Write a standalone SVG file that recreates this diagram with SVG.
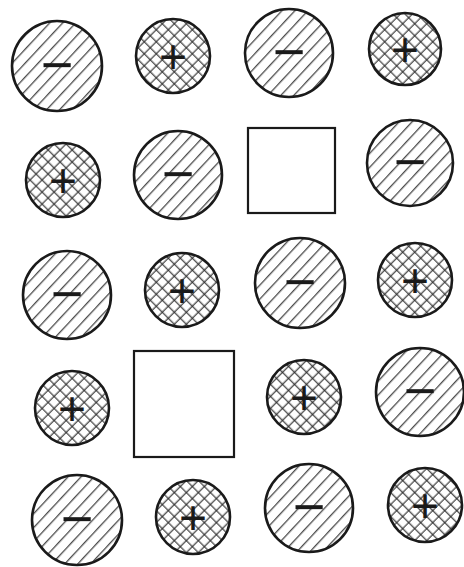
<svg xmlns="http://www.w3.org/2000/svg" width="464" height="567" viewBox="0 0 464 567">
<style>
.bg{fill:#fff}
.an{fill:url(#hatch);stroke:#1a1a1a;stroke-width:2.6}
.ca{fill:url(#cross);stroke:#1a1a1a;stroke-width:2.6}
.vac{fill:#fff;stroke:#1a1a1a;stroke-width:2.2}
.sg{font-family:"Liberation Sans",Arial,sans-serif;fill:#1a1a1a;text-anchor:middle}
.m{font-size:56px}
.p{font-size:48px}
</style>
<defs>
<pattern id="hatch" patternUnits="userSpaceOnUse" width="9.5" height="9.5" patternTransform="rotate(-47)">
<rect width="9.5" height="9.5" fill="#fff"/>
<line x1="0" y1="4.5" x2="9.5" y2="4.5" stroke="#2a2a2a" stroke-width="1.1"/>
</pattern>
<pattern id="cross" patternUnits="userSpaceOnUse" width="8.5" height="8.5" patternTransform="rotate(45)">
<rect width="8.5" height="8.5" fill="#fff"/>
<line x1="0" y1="4" x2="8.5" y2="4" stroke="#2a2a2a" stroke-width="1.1"/>
<line x1="4" y1="0" x2="4" y2="8.5" stroke="#2a2a2a" stroke-width="1.1"/>
</pattern>
</defs>
<rect class="bg" width="464" height="567"/>
<g id="r1c1"><circle class="an" cx="57" cy="66" r="45"/><text class="sg m" x="57" y="84">−</text></g>
<g id="r1c2"><circle class="ca" cx="173" cy="56" r="37"/><text class="sg p" x="173" y="73">+</text></g>
<g id="r1c3"><circle class="an" cx="289" cy="53" r="44"/><text class="sg m" x="289" y="71">−</text></g>
<g id="r1c4"><circle class="ca" cx="405" cy="49" r="36"/><text class="sg p" x="405" y="66">+</text></g>
<g id="r2c1"><circle class="ca" cx="63" cy="180" r="37"/><text class="sg p" x="63" y="197">+</text></g>
<g id="r2c2"><circle class="an" cx="178" cy="175" r="44"/><text class="sg m" x="178" y="193">−</text></g>
<g id="r2c3"><rect class="vac" x="248" y="128" width="87" height="85"/></g>
<g id="r2c4"><circle class="an" cx="410" cy="163" r="43"/><text class="sg m" x="410" y="181">−</text></g>
<g id="r3c1"><circle class="an" cx="67" cy="295" r="44"/><text class="sg m" x="67" y="313">−</text></g>
<g id="r3c2"><circle class="ca" cx="182" cy="290" r="37"/><text class="sg p" x="182" y="307">+</text></g>
<g id="r3c3"><circle class="an" cx="300" cy="283" r="45"/><text class="sg m" x="300" y="301">−</text></g>
<g id="r3c4"><circle class="ca" cx="415" cy="280" r="37"/><text class="sg p" x="415" y="297">+</text></g>
<g id="r4c1"><circle class="ca" cx="72" cy="408" r="37"/><text class="sg p" x="72" y="425">+</text></g>
<g id="r4c2"><rect class="vac" x="134" y="351" width="100" height="106"/></g>
<g id="r4c3"><circle class="ca" cx="304" cy="397" r="37"/><text class="sg p" x="304" y="414">+</text></g>
<g id="r4c4"><circle class="an" cx="420" cy="392" r="44"/><text class="sg m" x="420" y="410">−</text></g>
<g id="r5c1"><circle class="an" cx="77" cy="520" r="45"/><text class="sg m" x="77" y="538">−</text></g>
<g id="r5c2"><circle class="ca" cx="193" cy="517" r="37"/><text class="sg p" x="193" y="534">+</text></g>
<g id="r5c3"><circle class="an" cx="309" cy="508" r="44"/><text class="sg m" x="309" y="526">−</text></g>
<g id="r5c4"><circle class="ca" cx="425" cy="505" r="37"/><text class="sg p" x="425" y="522">+</text></g>
</svg>
